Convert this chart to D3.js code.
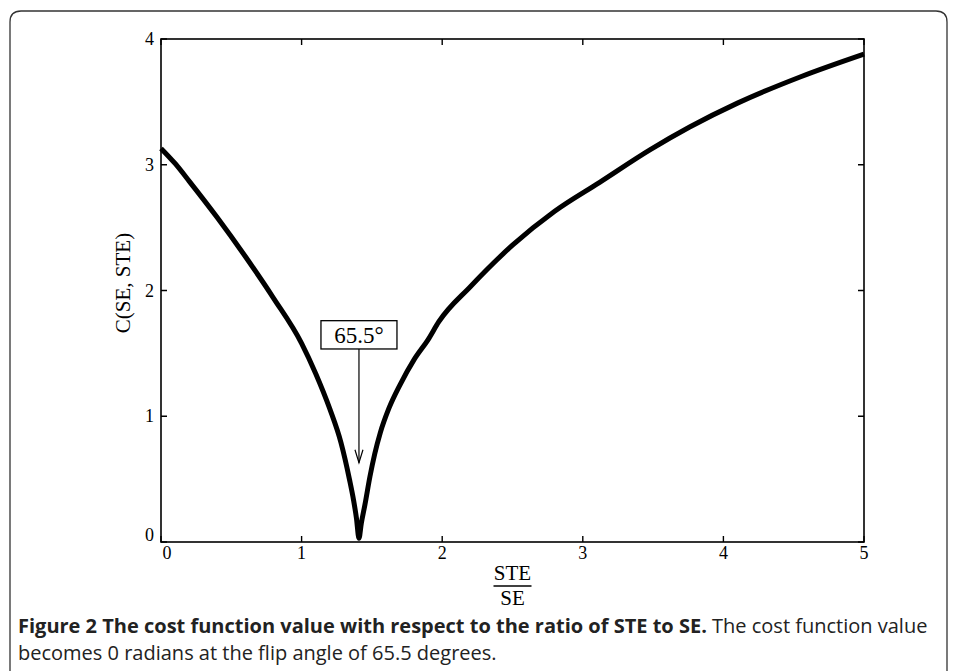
<!DOCTYPE html>
<html>
<head>
<meta charset="utf-8">
<script src="https://cdn.jsdelivr.net/npm/d3@7"></script>
<style>
  body { margin: 0; background: #fff; }
  svg { display: block; }
</style>
</head>
<body>
<svg id="chart" width="958" height="671"></svg>
<script>
( function () {

// ratio STE/SE (x) and cost value C(SE, STE) (y)
var ratio = [0, 0.1, 0.2, 0.4, 0.6, 0.8, 1.0, 1.1, 1.2, 1.28, 1.34, 1.37, 1.39, 1.408,
             1.425, 1.451, 1.486, 1.52, 1.56, 1.62, 1.70, 1.80, 1.90, 1.975, 2.2, 2.5, 2.8,
             3.12, 3.48, 3.76, 4.1, 4.55, 5.0];
var cost  = [3.13, 3.01, 2.87, 2.58, 2.27, 1.94, 1.58, 1.34, 1.06, 0.79, 0.50, 0.33, 0.19, 0.03,
             0.15, 0.30, 0.52, 0.70, 0.87, 1.06, 1.25, 1.45, 1.61, 1.75, 2.03, 2.36, 2.63,
             2.86, 3.12, 3.30, 3.49, 3.70, 3.88];

var xTicks = [0, 1, 2, 3, 4, 5];
var yTicks = [0, 1, 2, 3, 4];

// flip angle annotation
var flipLabel = "65.5\u00b0";
var flipX = 1.408;
var flipArrowTip = 0.63;

var captionBold = "Figure 2 The cost function value with respect to the ratio of STE to SE.";
var captionRest = " The cost function value";
var captionLine2 = "becomes 0 radians at the flip angle of 65.5 degrees.";

var svg = d3.select("#chart");
var serif = "'Liberation Serif', 'Times New Roman', serif";

// outer frame, rounded on top, open at the bottom
svg.append("path")
  .attr("d", "M10,671 L10,22 Q10,11 21,11 L936,11 Q947,11 947,22 L947,671")
  .attr("fill", "none")
  .attr("stroke", "#333")
  .attr("stroke-width", 1.3);

var left = 161, right = 864, top = 39, bottom = 542;

var x = d3.scaleLinear().domain([0, 5]).range([left, right]);
var y = d3.scaleLinear().domain([0, 4]).range([bottom, top]);

var g = svg.append("g");

// box around the plot
g.append("rect")
  .attr("x", left).attr("y", top)
  .attr("width", right - left).attr("height", bottom - top)
  .attr("fill", "none").attr("stroke", "#000").attr("stroke-width", 1.6);

// inward ticks on all 4 sides
var tl = 6;
g.selectAll(".xt").data(xTicks).enter().append("path")
  .attr("d", function (d) { return "M" + x(d) + "," + bottom + "v" + (-tl) + "M" + x(d) + "," + top + "v" + tl; })
  .attr("stroke", "#000").attr("stroke-width", 1.4);
g.selectAll(".yt").data(yTicks).enter().append("path")
  .attr("d", function (d) { return "M" + left + "," + y(d) + "h" + tl + "M" + right + "," + y(d) + "h" + (-tl); })
  .attr("stroke", "#000").attr("stroke-width", 1.4);

// tick labels
g.selectAll(".xl").data(xTicks).enter().append("text")
  .attr("x", function (d) { return x(d) + (d === 0 ? 6 : 0); })
  .attr("y", 559)
  .attr("text-anchor", "middle")
  .style("font-family", serif).style("font-size", "18px")
  .text(function (d) { return d; });
g.selectAll(".yl").data(yTicks).enter().append("text")
  .attr("x", 154)
  .attr("y", function (d) { return y(d) + (d === 0 ? -1 : 6); })
  .attr("text-anchor", "end")
  .style("font-family", serif).style("font-size", "18px")
  .text(function (d) { return d; });

// y axis title
g.append("text")
  .attr("transform", "translate(130,283) rotate(-90)")
  .attr("text-anchor", "middle")
  .style("font-family", serif).style("font-size", "21px")
  .text("C(SE, STE)");

// x axis title as a fraction STE / SE
var fx = (left + right) / 2;
g.append("text").attr("x", fx).attr("y", 580).attr("text-anchor", "middle")
  .style("font-family", serif).style("font-size", "21px").text("STE");
g.append("line").attr("x1", fx - 19).attr("x2", fx + 19).attr("y1", 586).attr("y2", 586)
  .attr("stroke", "#000").attr("stroke-width", 1.4);
g.append("text").attr("x", fx).attr("y", 605).attr("text-anchor", "middle")
  .style("font-family", serif).style("font-size", "21px").text("SE");

// the cost curve
var pts = ratio.map(function (r, i) { return [r, cost[i]]; });
var line = d3.line()
  .x(function (d) { return x(d[0]); })
  .y(function (d) { return y(d[1]); })
  .curve(d3.curveMonotoneX);

g.append("path")
  .datum(pts)
  .attr("d", line)
  .attr("fill", "none")
  .attr("stroke", "#000")
  .attr("stroke-width", 5)
  .attr("stroke-linejoin", "round");

// annotation box and arrow
var ax = x(flipX);
var boxTop = y(1.76), boxBot = y(1.535);
g.append("rect")
  .attr("x", ax - 38).attr("y", boxTop)
  .attr("width", 76).attr("height", boxBot - boxTop)
  .attr("fill", "#fff").attr("stroke", "#000").attr("stroke-width", 1.3);
g.append("text")
  .attr("x", ax).attr("y", boxBot - 6)
  .attr("text-anchor", "middle")
  .style("font-family", serif).style("font-size", "23px")
  .text(flipLabel);
var tip = y(flipArrowTip);
g.append("line")
  .attr("x1", ax).attr("x2", ax).attr("y1", boxBot).attr("y2", tip)
  .attr("stroke", "#000").attr("stroke-width", 1.2);
g.append("path")
  .attr("d", "M" + (ax - 4) + "," + (tip - 13) + "L" + ax + "," + tip + "L" + (ax + 4) + "," + (tip - 13))
  .attr("fill", "none").attr("stroke", "#000").attr("stroke-width", 1.2);

// caption
var capFont = "'Open Sans', sans-serif";
var cap = svg.append("text")
  .attr("x", 18).attr("y", 633)
  .style("font-family", capFont)
  .style("font-size", "20px")
  .attr("fill", "#222");
cap.append("tspan").style("font-weight", "bold").text(captionBold);
cap.append("tspan").text(captionRest);
svg.append("text")
  .attr("x", 18).attr("y", 660)
  .style("font-family", capFont)
  .style("font-size", "20px")
  .attr("fill", "#222")
  .text(captionLine2);

} )();
</script>
</body>
</html>
